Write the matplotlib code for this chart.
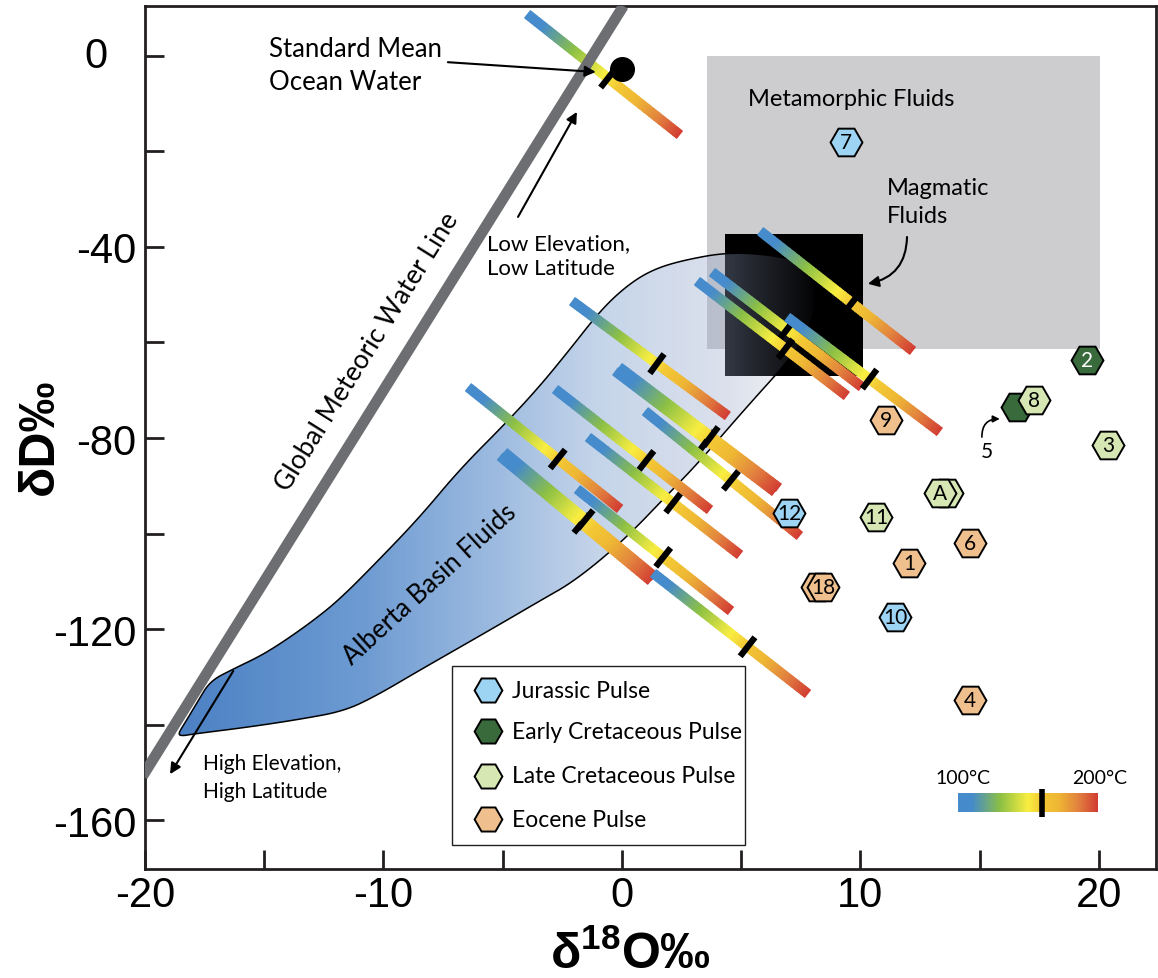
import numpy as np
import matplotlib
matplotlib.use("Agg")
import matplotlib.pyplot as plt
from matplotlib.colors import LinearSegmentedColormap
from matplotlib.collections import LineCollection
from matplotlib.patches import Rectangle, Polygon, FancyArrowPatch
from matplotlib.ticker import MultipleLocator

plt.rcParams['font.family'] = ['Lato', 'DejaVu Sans']
plt.rcParams['axes.unicode_minus'] = False
plt.rcParams['mathtext.fontset'] = 'custom'
plt.rcParams['mathtext.rm'] = 'Liberation Sans'
plt.rcParams['mathtext.bf'] = 'Liberation Sans:bold'

# ---------------- data ----------------
# Global Meteoric Water Line: dD = 8 * d18O + 10
gmwl_slope = 8.0
gmwl_intercept = 10.0
gmwl_d18o = [-20.1, 0.06]

smow_d18o = 0.0
smow_dD = -2.7

# fluid reservoirs (d18O range, dD range)
metamorphic_d18o = [3.56, 20.04]
metamorphic_dD = [-61.4, 0.0]
magmatic_d18o = [4.32, 10.10]
magmatic_dD = [-67.0, -37.3]

# Alberta Basin formation-water field outline
basin_d18o = [-18.62, -18.28, -17.78, -17.27, -16.31, -15.18, -14.21, -12.96, -11.82,
              -10.15, -8.47, -6.79, -4.82, -3.44, -2.18, -0.92, 0.13, 1.17, 2.43,
              4.53, 6.62, 7.46, 7.97, 8.13, 7.88, 7.04, 5.16, 3.27, 2.14, 0.04,
              -1.97, -3.44, -5.12, -6.79, -8.47, -10.31, -11.66, -13.50, -15.60,
              -17.99, -18.45]
basin_dD = [-142.0, -139.3, -135.1, -130.9, -128.4, -125.7, -122.7, -118.3, -113.7,
            -105.3, -96.5, -86.5, -76.6, -69.1, -61.4, -53.4, -48.4, -45.0, -42.9,
            -41.0, -41.9, -43.4, -46.7, -50.9, -57.2, -63.5, -73.9, -84.8, -90.7,
            -101.6, -109.9, -114.1, -119.0, -123.8, -128.6, -134.0, -137.2, -138.9,
            -140.5, -142.0, -142.4]

# calculated fluid compositions, 100 C (start) to 200 C (end), with measured temperature
fluid_d18o_100 = [-3.98, 5.79, 3.77, 3.14, 6.92, -2.10, -0.29, -0.13, 0.96, -2.81,
                  -1.43, -6.46, -5.12, -4.95, -1.89, 1.30]
fluid_dD_100 = [8.80, -36.65, -45.24, -47.12, -54.66, -51.31, -65.97, -65.13, -74.35,
                -69.74, -79.79, -69.32, -83.77, -82.93, -90.68, -108.27]
fluid_d18o_200 = [2.43, 12.20, 10.06, 9.43, 13.33, 4.44, 6.42, 6.58, 7.46, 3.69,
                  4.95, -0.08, 1.22, 1.38, 4.57, 7.80]
fluid_dD_200 = [-16.54, -61.78, -69.32, -71.20, -78.74, -75.39, -91.31, -90.47,
                -100.52, -95.08, -104.50, -94.87, -109.95, -109.11, -116.23, -133.61]
fluid_T_frac = [0.53, 0.60, 0.50, 0.59, 0.54, 0.545, 0.575, 0.575, 0.555, 0.59,
                0.56, 0.59, 0.54, 0.54, 0.56, 0.61]

# vein samples by pulse
pulse_names = ['Jurassic Pulse', 'Early Cretaceous Pulse', 'Late Cretaceous Pulse', 'Eocene Pulse']
pulse_colors = ['#9dd4f4', '#386a3c', '#d6e7b4', '#efc08e']

jurassic_d18o = [9.39, 7.00, 11.45]
jurassic_dD = [-18.0, -95.7, -117.5]
jurassic_labels = ['7', '12', '10']

early_cret_d18o = [19.50, 16.56]
early_cret_dD = [-63.7, -73.5]
early_cret_labels = ['2', '']

late_cret_d18o = [13.63, 17.27, 20.38, 13.33, 10.65]
late_cret_dD = [-91.5, -72.0, -81.5, -91.5, -96.5]
late_cret_labels = ['', '8', '3', 'A', '11']

eocene_d18o = [8.18, 11.07, 14.59, 12.03, 8.43, 14.59]
eocene_dD = [-111.2, -76.2, -102.0, -106.2, -111.2, -134.9]
eocene_labels = ['', '9', '6', '1', '18', '4']

x_major = [-20, -10, 0, 10, 20]
y_major = [-160, -120, -80, -40, 0]

# ---------------- figure ----------------
fig = plt.figure(figsize=(11.58, 9.79), dpi=100)
ax = fig.add_axes([145 / 1158, 109 / 979, 1011 / 1158, 863 / 979])
ax.set_xlim(-20, 22.39)
ax.set_ylim(-170.26, 10.47)
ax.set_autoscale_on(False)

temp_cmap = LinearSegmentedColormap.from_list('temp', [
    (0.00, '#468bcb'), (0.10, '#468bcb'), (0.30, '#8cc045'), (0.50, '#f9ee41'),
    (0.60, '#f3c834'), (0.72, '#eeb634'), (0.86, '#e2823f'), (1.00, '#d23c33')])

BAR_LW = 7.3      # points
TICK_HALF = 12.0  # pixels
TICK_LW = 4.5     # points


def gradient_bar(xa, ya, xb, yb, z, n=90):
    t = np.linspace(0, 1, n + 1)
    xs = xa + (xb - xa) * t
    ys = ya + (yb - ya) * t
    segs = []
    for i in range(n):
        te = min(t[i + 1] + 0.6 / n, 1.0)
        segs.append([(xs[i], ys[i]), (xa + (xb - xa) * te, ya + (yb - ya) * te)])
    cols = temp_cmap((t[:-1] + t[1:]) / 2)
    lc = LineCollection(segs, colors=cols, linewidths=BAR_LW, capstyle='butt', zorder=z)
    ax.add_collection(lc)


def perp_tick(xa, ya, xb, yb, frac, z, half=TICK_HALF, lw=TICK_LW):
    pa = ax.transData.transform((xa, ya))
    pb = ax.transData.transform((xb, yb))
    d = pb - pa
    d = d / np.hypot(*d)
    nrm = np.array([-d[1], d[0]])
    c = pa + frac * (pb - pa)
    ends = ax.transData.inverted().transform(np.array([c - nrm * half, c + nrm * half]))
    ax.plot(ends[:, 0], ends[:, 1], color='black', lw=lw, solid_capstyle='butt', zorder=z)


def chaikin(x, y, n_iter=3):
    pts = np.column_stack([x, y]).astype(float)
    for _ in range(n_iter):
        nxt = np.roll(pts, -1, axis=0)
        q = 0.75 * pts + 0.25 * nxt
        r = 0.25 * pts + 0.75 * nxt
        new = np.empty((2 * len(pts), 2))
        new[0::2] = q
        new[1::2] = r
        pts = new
    return pts


# reservoirs
ax.add_patch(Rectangle((metamorphic_d18o[0], metamorphic_dD[0]),
                       metamorphic_d18o[1] - metamorphic_d18o[0],
                       metamorphic_dD[1] - metamorphic_dD[0],
                       facecolor='#cdcdcf', edgecolor='none', zorder=1))
ax.add_patch(Rectangle((magmatic_d18o[0], magmatic_dD[0]),
                       magmatic_d18o[1] - magmatic_d18o[0],
                       magmatic_dD[1] - magmatic_dD[0],
                       facecolor='black', edgecolor='none', zorder=2))

# basin field with fading fill
outline = chaikin(basin_d18o, basin_dD, 3)
basin_patch = Polygon(outline, closed=True, facecolor='none', edgecolor='black',
                      lw=1.1, zorder=3.2)
ax.add_patch(basin_patch)
stop_x = [-18.7, -10.7, -5.4, -0.9, 4.5, 7.0, 8.4]
stop_rgba = np.array([
    [74, 128, 196, 1.00 * 255],
    [102, 150, 208, 0.95 * 255],
    [122, 163, 214, 0.75 * 255],
    [139, 171, 213, 0.50 * 255],
    [150, 165, 200, 0.33 * 255],
    [140, 150, 180, 0.13 * 255],
    [140, 150, 180, 0.0],
]) / 255.0
gx = np.linspace(outline[:, 0].min(), outline[:, 0].max(), 600)
rgba = np.zeros((2, gx.size, 4))
for k in range(4):
    rgba[:, :, k] = np.interp(gx, stop_x, stop_rgba[:, k])
im = ax.imshow(rgba, extent=(gx[0], gx[-1], outline[:, 1].min(), outline[:, 1].max()),
               aspect='auto', interpolation='bilinear', zorder=3)
im.set_clip_path(basin_patch)

# fluid composition bars
for i in range(len(fluid_d18o_100)):
    gradient_bar(fluid_d18o_100[i], fluid_dD_100[i], fluid_d18o_200[i], fluid_dD_200[i], 4 + i * 0.01)
    perp_tick(fluid_d18o_100[i], fluid_dD_100[i], fluid_d18o_200[i], fluid_dD_200[i],
              fluid_T_frac[i], 4.005 + i * 0.01)

# meteoric water line
gx_line = np.array(gmwl_d18o)
ax.plot(gx_line, gmwl_slope * gx_line + gmwl_intercept, color='#6d6e71', lw=7.8,
        solid_capstyle='butt', zorder=5)

# SMOW
ax.plot(smow_d18o, smow_dD, 'o', ms=17, color='black', zorder=6)

# samples
groups = [(jurassic_d18o, jurassic_dD, jurassic_labels, pulse_colors[0], 'black'),
          (early_cret_d18o, early_cret_dD, early_cret_labels, pulse_colors[1], 'white'),
          (late_cret_d18o, late_cret_dD, late_cret_labels, pulse_colors[2], 'black'),
          (eocene_d18o, eocene_dD, eocene_labels, pulse_colors[3], 'black')]
for gxs, gys, glabs, gcol, tcol in groups:
    for xx, yy, lab in zip(gxs, gys, glabs):
        ax.plot(xx, yy, marker='H', ms=23, mfc=gcol, mec='black', mew=1.4, zorder=6)
        if lab:
            ax.text(xx, yy, lab, ha='center', va='center', fontsize=15, color=tcol, zorder=6.5)

# annotations
arrow_kw = dict(arrowstyle='-|>', mutation_scale=16, color='black', lw=1.5,
                shrinkA=0, shrinkB=0, zorder=7)
ax.text(-14.8, -1.9, 'Standard Mean\nOcean Water', fontsize=18.5, ha='left', va='center',
        linespacing=1.4, zorder=7)
ax.add_patch(FancyArrowPatch((-7.3, -1.3), (-1.1, -3.35), **arrow_kw))
ax.text(-5.66, -41.7, 'Low Elevation,\nLow Latitude', fontsize=16, ha='left', va='center',
        linespacing=1.3, zorder=7)
ax.add_patch(FancyArrowPatch((-4.36, -33.7), (-1.89, -11.7), **arrow_kw))
ax.text(-17.57, -151.0, 'High Elevation,\nHigh Latitude', fontsize=15, ha='left', va='center',
        linespacing=1.45, zorder=7)
ax.add_patch(FancyArrowPatch((-16.3, -128.8), (-18.95, -150.4), **arrow_kw))
ax.text(-10.69, -61.8, 'Global Meteoric Water Line', fontsize=19, rotation=58,
        rotation_mode='anchor', ha='center', va='center', zorder=7)
ax.text(-8.05, -110.6, 'Alberta Basin Fluids', fontsize=18.5, rotation=42.4,
        rotation_mode='anchor', ha='center', va='center', zorder=7)
ax.text(5.28, -9.0, 'Metamorphic Fluids', fontsize=17, ha='left', va='center', zorder=7)
ax.text(11.11, -30.5, 'Magmatic\nFluids', fontsize=17, ha='left', va='center',
        linespacing=1.45, zorder=7)
ax.add_patch(FancyArrowPatch((11.95, -37.9), (10.31, -47.7),
                             connectionstyle='arc3,rad=-0.4', **arrow_kw))
ax.text(15.30, -82.7, '5', fontsize=15, ha='center', va='center', zorder=7)
ax.add_patch(FancyArrowPatch((15.09, -79.8), (15.84, -76.0),
                             connectionstyle='arc3,rad=-0.5',
                             arrowstyle='-|>', mutation_scale=10, color='black', lw=1.2,
                             shrinkA=0, shrinkB=0, zorder=7))

# legend
ax.add_patch(Rectangle((0.3037, 0.0278), 0.2898, 0.2074, transform=ax.transAxes,
                       facecolor='white', edgecolor='#231f20', lw=1.0, zorder=9))
row_y = [0.2074, 0.1599, 0.1078, 0.0579]
for name, col, yy in zip(pulse_names, pulse_colors, row_y):
    ax.plot(0.3393, yy, marker='H', ms=20, mfc=col, mec='black', mew=1.4,
            transform=ax.transAxes, zorder=10)
    ax.text(0.3630, yy, name, transform=ax.transAxes, ha='left', va='center',
            fontsize=16.5, zorder=10)

# temperature scale
ax.imshow(np.linspace(0, 1, 256).reshape(1, -1), cmap=temp_cmap, aspect='auto',
          extent=(0.8042, 0.9417, 0.066, 0.0869), transform=ax.transAxes, zorder=9)
ax.plot([0.8872, 0.8872], [0.0603, 0.0927], color='black', lw=4, solid_capstyle='butt',
        transform=ax.transAxes, zorder=10)
ax.text(0.809, 0.1066, '100°C', transform=ax.transAxes, ha='center', va='center',
        fontsize=14, zorder=10)
ax.text(0.9446, 0.1066, '200°C', transform=ax.transAxes, ha='center', va='center',
        fontsize=14, zorder=10)

# axes styling
TICK_FONT = dict(family='Liberation Sans', size=30)
ax.set_xticks(x_major)
ax.set_xticklabels([str(v) for v in x_major], fontdict=TICK_FONT)
ax.xaxis.set_minor_locator(MultipleLocator(5))
ax.set_yticks(y_major)
# the zero label on the y axis is set separately, centred further left
ax.set_yticklabels([str(v) if v != 0 else '' for v in y_major], fontdict=TICK_FONT)
ax.text(-0.0366, 0.0, '0', transform=ax.get_yaxis_transform(), ha='right', va='center',
        **TICK_FONT)
ax.yaxis.set_minor_locator(MultipleLocator(20))
ax.tick_params(which='both', direction='in', length=14, width=2, color='#231f20')
ax.tick_params(axis='x', pad=4)
ax.tick_params(axis='y', pad=6)
for sp in ax.spines.values():
    sp.set_linewidth(2.0)
    sp.set_color('#231f20')

fig.text(40 / 1158, 1 - 437 / 979, 'δD‰', rotation=90, ha='center', va='center',
         fontsize=36, fontweight='bold', family='Liberation Sans')
fig.text(630 / 1158, 1 - 955 / 979, r'δ$^{\mathbf{18}}$O‰', ha='center', va='center',
         fontsize=36, fontweight='bold', family='Liberation Sans')

fig.savefig('out.png', dpi=100)
